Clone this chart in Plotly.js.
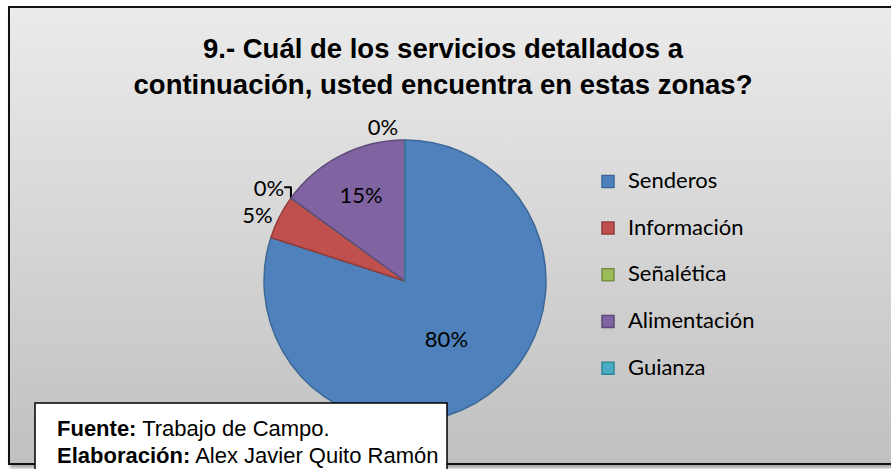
<!DOCTYPE html>
<html>
<head>
<meta charset="utf-8">
<script src="https://cdn.plot.ly/plotly-3.0.1.min.js"></script>
<style>
  html, body { margin:0; padding:0; width:891px; height:469px; overflow:hidden; background:#ffffff; }
  #frame { position:absolute; left:8px; top:6px; width:900px; height:455px;
           border:2px solid #111; background:linear-gradient(#ebebeb, #c0c0c0);
           box-shadow:2px 3px 3px rgba(0,0,0,0.35); }
  #chart { position:absolute; left:0; top:0; width:891px; height:469px; }
</style>
</head>
<body>
<div id="frame"></div>
<div id="chart"></div>
<script>
const categories = ['Senderos', 'Información', 'Señalética', 'Alimentación', 'Guianza'];
const values = [80, 5, 0, 15, 0];
const colors = ['#4F81BD', '#C0504D', '#9BBB59', '#8064A2', '#4BACC6'];
const edgeColors = ['#3C6796', '#923B38', '#769044', '#5E4A7A', '#31849B'];
const textPositions = ['inside', 'outside', 'outside', 'inside', 'outside'];
const titleText = '<b>9.- Cuál de los servicios detallados a<br>continuación, usted encuentra en estas zonas?</b>';
const sourceLine = '<b>Fuente:</b> Trabajo de Campo.';
const authorLine = '<b>Elaboración:</b> Alex Javier Quito Ramón';

const W = 891, H = 469;
const labelFont = { family: 'Lato, sans-serif', size: 22, color: '#000' };
const trace = {
  type: 'pie',
  labels: categories.map(c => '<span style="font-size:22px">' + c + '</span><br> '),
  values: values,
  sort: false,
  direction: 'clockwise',
  rotation: 0,
  marker: { colors: colors, line: { color: edgeColors, width: 1.5 } },
  texttemplate: '%{percent:.0%}',
  textposition: textPositions,
  insidetextorientation: 'horizontal',
  textfont: labelFont,
  outsidetextfont: labelFont,
  insidetextfont: labelFont,
  domain: { x: [264 / W, 546 / W], y: [1 - 422 / H, 1 - 140 / H] },
  hoverinfo: 'percent',
  showlegend: true
};

const layout = {
  width: W, height: H,
  margin: { l: 0, r: 0, t: 0, b: 0 },
  paper_bgcolor: 'rgba(0,0,0,0)',
  plot_bgcolor: 'rgba(0,0,0,0)',
  title: {
    text: titleText,
    font: { family: '"Liberation Sans", Arial, sans-serif', size: 27.5, color: '#000' },
    x: 443 / W, xanchor: 'center', xref: 'container',
    y: 1 - 58 / H, yanchor: 'top', yref: 'container'
  },
  legend: {
    x: 588 / W, xanchor: 'left', y: 1 - 164 / H, yanchor: 'top',
    valign: 'top',
    font: { family: 'Lato, sans-serif', size: 16.8, color: '#000' },
    bgcolor: 'rgba(0,0,0,0)', itemwidth: 30
  },
  shapes: [{
    type: 'rect', xref: 'paper', yref: 'paper', layer: 'above',
    x0: 35 / W, x1: 447 / W, y0: -0.2, y1: 1 - 403 / H,
    fillcolor: '#ffffff', line: { color: '#000', width: 1.5 }
  }],
  annotations: [
    { text: sourceLine, xref: 'paper', yref: 'paper', x: 55 / W, y: 1 - 428 / H,
      xanchor: 'left', yanchor: 'middle', showarrow: false, align: 'left',
      font: { family: '"Liberation Sans", Arial, sans-serif', size: 22, color: '#000' } },
    { text: authorLine, xref: 'paper', yref: 'paper', x: 55 / W, y: 1 - 455 / H,
      xanchor: 'left', yanchor: 'middle', showarrow: false, align: 'left',
      font: { family: '"Liberation Sans", Arial, sans-serif', size: 22, color: '#000' } }
  ]
};

Plotly.newPlot('chart', [trace], layout, { displayModeBar: false, staticPlot: true });
</script>
</body>
</html>
